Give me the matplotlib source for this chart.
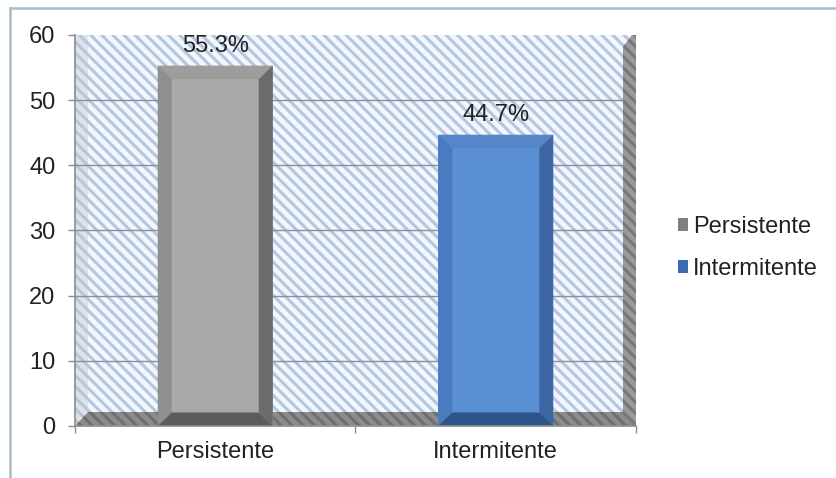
import matplotlib
matplotlib.use("Agg")
import matplotlib.pyplot as plt
from matplotlib.patches import Rectangle, Polygon, Patch
from matplotlib.lines import Line2D

plt.rcParams['font.family'] = ['Liberation Sans', 'DejaVu Sans']
plt.rcParams['hatch.linewidth'] = 2.2

# data
categories = ['Persistente', 'Intermitente']
values = [55.3, 44.7]
labels = ['55.3%', '44.7%']
yticks = [0, 10, 20, 30, 40, 50, 60]

# bar colours: face, top, left, right, bottom bevel
bar_colors = [
    ('#a9a9a9', '#9d9d9d', '#8f8f8f', '#6b6b6b', '#5c5c5c'),
    ('#5b8fd4', '#5686c8', '#4a7bc0', '#3c67a4', '#2f5489'),
]
legend_colors = ['#7f7f7f', '#3b6cb2']

fig = plt.figure(figsize=(8.37, 4.78), dpi=100)
ax = fig.add_axes([75 / 837, 52 / 478, 561 / 837, 391 / 478])
ax.set_xlim(-0.5, 1.5)
ax.set_ylim(0, 60)

# 3d depth in data units (~13 px)
dx = 13 / 280.5
dy = 14 / 6.52

# hatched walls
ax.add_patch(Rectangle((-0.5, 0), 2, 60, facecolor='#f3f6fb', edgecolor='#b3c6e2',
                       hatch='\\\\\\', linewidth=0, zorder=0))
# left wall shading
ax.add_patch(Polygon([(-0.5, 0), (-0.5, 60), (-0.5 + dx, 60), (-0.5 + dx, dy)],
                     closed=True, facecolor='#dde3ea', edgecolor='#b9c6d6',
                     hatch='\\\\\\', linewidth=0, zorder=0.5))
# floor
ax.add_patch(Polygon([(-0.5, 0), (-0.5 + dx, dy), (1.5 - dx, dy), (1.5, 0)],
                     closed=True, facecolor='#8c8c8c', edgecolor='#6f6f6f',
                     hatch='\\\\\\', linewidth=0, zorder=1))
# right wall
ax.add_patch(Polygon([(1.5 - dx, dy), (1.5 - dx, 58.2), (1.5 - dx * 0.3, 60), (1.5, 60), (1.5, 0)],
                     closed=True, facecolor='#9a9a9a', edgecolor='#777777',
                     hatch='\\\\\\', linewidth=0, zorder=1))

# gridlines
for t in yticks[1:-1]:
    ax.plot([-0.5, 1.5 - dx], [t, t], color='#8a9096', linewidth=1.0, zorder=1.5)

# bars with bevel
w = 0.41
bx = 14 / 280.5
by = 13.5 / 6.52
for i, (v, cols) in enumerate(zip(values, bar_colors)):
    ax.bar(i, v, width=w, color=cols[0], linewidth=0, zorder=3)
    x0, x1 = i - w / 2, i + w / 2
    xi0, xi1 = x0 + bx, x1 - bx
    yi0, yi1 = by, v - by
    polys = [
        ([(x0, v), (x1, v), (xi1, yi1), (xi0, yi1)], cols[1]),
        ([(x0, 0), (x0, v), (xi0, yi1), (xi0, yi0)], cols[2]),
        ([(x1, 0), (x1, v), (xi1, yi1), (xi1, yi0)], cols[3]),
        ([(x0, 0), (x1, 0), (xi1, yi0), (xi0, yi0)], cols[4]),
    ]
    for pts, c in polys:
        ax.add_patch(Polygon(pts, closed=True, facecolor=c, linewidth=0, zorder=4))
    ax.annotate(labels[i], xy=(i, v), xytext=(0, 6), textcoords='offset points',
                ha='center', va='bottom', fontsize=17, color='#222222', zorder=5)

# axes styling
for s in ['top', 'right']:
    ax.spines[s].set_visible(False)
for s in ['left', 'bottom']:
    ax.spines[s].set_color('#8c8c8c')
    ax.spines[s].set_linewidth(1.2)
ax.spines['left'].set_zorder(6)
ax.spines['bottom'].set_zorder(6)

ax.set_yticks(yticks)
ax.tick_params(axis='y', length=5, width=1, color='#8c8c8c', labelsize=17,
               labelcolor='#222222', pad=9)
ax.set_xticks([0, 1])
ax.set_xticklabels(categories)
ax.tick_params(axis='x', which='major', length=0, labelsize=17,
               labelcolor='#222222', pad=11)
ax.set_xticks([-0.5, 0.5, 1.5], minor=True)
ax.tick_params(axis='x', which='minor', length=5, width=1, color='#8c8c8c')

# legend
handles = [Patch(facecolor=c, edgecolor='none') for c in legend_colors]
fig.legend(handles, categories, loc='center left', bbox_to_anchor=(657 / 837, 1 - 248 / 478),
           frameon=False, fontsize=17, handlelength=0.42, handleheight=0.42,
           handletextpad=0.2, labelspacing=0.85, labelcolor='#222222')

# outer chart border
fig.add_artist(Line2D([10 / 837, 1], [1 - 8 / 478, 1 - 8 / 478], transform=fig.transFigure,
                      color='#a9bcc8', linewidth=1.8))
fig.add_artist(Line2D([10 / 837, 10 / 837], [0, 1 - 8 / 478], transform=fig.transFigure,
                      color='#a9bcc8', linewidth=1.8))

fig.savefig('out.png', dpi=100)
